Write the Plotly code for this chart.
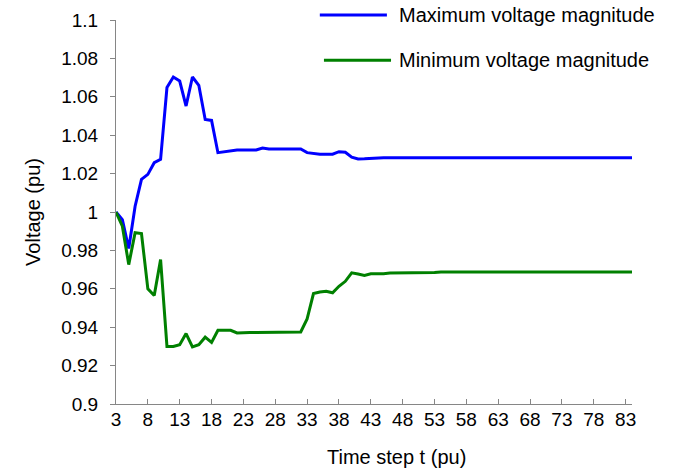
import plotly.graph_objects as go

t = list(range(3, 85))

v_max = [1.000, 0.996, 0.981, 1.003, 1.017, 1.0196, 1.0257, 1.0274, 1.0648, 1.0703,
         1.0682, 1.0552, 1.0703, 1.066, 1.0482, 1.0477, 1.0309, 1.0315, 1.032, 1.0323,
         1.0323, 1.0323, 1.0323, 1.0333, 1.0328, 1.0328, 1.0328, 1.0328, 1.0328, 1.0328,
         1.0309, 1.0305, 1.0301, 1.0301, 1.0301, 1.0314, 1.0311, 1.0286, 1.0276, 1.0277,
         1.0279, 1.0283] + [1.0283] * 40

v_min = [1.000, 0.9926, 0.9726, 0.9892, 0.9888, 0.960, 0.9565, 0.9752, 0.930, 0.930,
         0.9309, 0.9367, 0.9297, 0.9309, 0.9348, 0.9321, 0.9384, 0.9384, 0.9384, 0.937,
         0.9372, 0.9372, 0.9372, 0.9372, 0.9372, 0.9372, 0.9372, 0.9372, 0.9372, 0.9375,
         0.9443, 0.9575, 0.9583, 0.9587, 0.9579, 0.9613, 0.9639, 0.9683, 0.9677, 0.967,
         0.9678, 0.9678, 0.9678, 0.9682, 0.9682, 0.9682, 0.9682, 0.9685, 0.9685, 0.9685,
         0.9685] + [0.9688] * 31

x_ticks = list(range(3, 84, 5))
series_names = ["Maximum voltage magnitude", "Minimum voltage magnitude"]

FONT = "Liberation Sans, Arial, sans-serif"
BLUE = "#0000FF"
GREEN = "#008000"

fig = go.Figure()
fig.add_trace(go.Scatter(x=t, y=v_max, mode="lines", name=series_names[0],
                         line=dict(color=BLUE, width=3), showlegend=False))
fig.add_trace(go.Scatter(x=t, y=v_min, mode="lines", name=series_names[1],
                         line=dict(color=GREEN, width=3), showlegend=False))

# legend drawn as short line samples + text (paper coordinates)
leg = [(series_names[0], BLUE, 0.395, 0.525, 1.013),
       (series_names[1], GREEN, 0.403, 0.533, 0.895)]
for name, col, x0, x1, y in leg:
    fig.add_shape(type="line", xref="paper", yref="paper", x0=x0, x1=x1, y0=y, y1=y,
                  line=dict(color=col, width=3))
    fig.add_annotation(xref="paper", yref="paper", x=0.545, y=y, text=name,
                       showarrow=False, xanchor="left", yanchor="middle",
                       font=dict(family=FONT, size=20, color="#000000"))

fig.add_annotation(xref="paper", yref="paper", x=0.543, y=-0.138, text="Time step t (pu)",
                   showarrow=False, xanchor="center", yanchor="middle",
                   font=dict(family=FONT, size=20, color="#000000"))
fig.add_annotation(xref="paper", yref="paper", x=-0.161, y=0.5, text="Voltage (pu)",
                   textangle=-90, showarrow=False, xanchor="center", yanchor="middle",
                   font=dict(family=FONT, size=20, color="#000000"))

fig.update_layout(
    width=679, height=472,
    margin=dict(l=116, r=47, t=20, b=68),
    paper_bgcolor="white", plot_bgcolor="white",
    font=dict(family=FONT, size=19, color="#000000"),
    xaxis=dict(range=[3, 84], tickvals=x_ticks + [84], ticktext=[str(v) for v in x_ticks] + [""],
               showgrid=False, zeroline=False, showline=True, linecolor="#868686", linewidth=1,
               ticks="inside", ticklen=5, tickcolor="#868686", tickfont=dict(size=19),
               ticklabelstandoff=-2, automargin=False),
    yaxis=dict(range=[0.9, 1.1], dtick=0.02, tick0=0.9,
               showgrid=False, zeroline=False, showline=True, linecolor="#868686", linewidth=1,
               ticks="outside", ticklen=5, tickcolor="#868686", tickfont=dict(size=19),
               ticklabelstandoff=8, automargin=False),
)

fig.write_html("out.html", config={"displayModeBar": False},
               post_script="document.body.style.margin='0';")
